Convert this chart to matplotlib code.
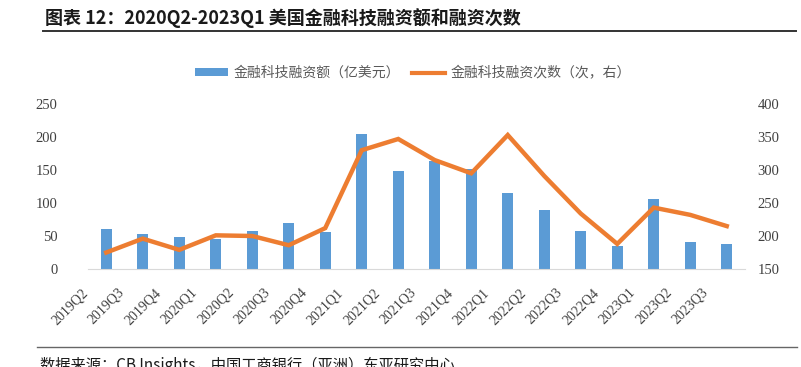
import matplotlib.pyplot as plt
import matplotlib.transforms as mtransforms
from matplotlib.lines import Line2D
from matplotlib.patches import Patch
import numpy as np

plt.rcParams['font.family'] = ['Noto Sans CJK SC', 'DejaVu Sans']

# Data
quarters = ['2019Q2', '2019Q3', '2019Q4', '2020Q1', '2020Q2', '2020Q3', '2020Q4',
            '2021Q1', '2021Q2', '2021Q3', '2021Q4', '2022Q1', '2022Q2', '2022Q3',
            '2022Q4', '2023Q1', '2023Q2', '2023Q3']
funding = [60, 52.5, 49, 45, 57.5, 70, 56, 204, 148.5, 164, 151, 115, 89, 57.5,
           35, 106.5, 40.5, 38]
deals = [175, 196, 179, 201, 200, 186, 212, 330, 347, 315, 295, 353, 291, 234,
         188, 243, 232, 215]

bar_color = '#5B9BD5'
line_color = '#ED7D31'
serif = 'Liberation Serif'

fig = plt.figure(figsize=(8.01, 3.67), dpi=100)
ax = fig.add_axes([88 / 801, 1 - 269 / 367, (745 - 88) / 801, 165 / 367])
ax2 = ax.twinx()

x = np.arange(len(quarters))
ax.bar(x, funding, width=0.31, color=bar_color, zorder=2)
ax2.plot(x, deals, color=line_color, linewidth=3.2, solid_joinstyle='miter', zorder=3)

# Axes setup
ax.set_xlim(-0.5, len(quarters) - 0.5)
ax.set_ylim(0, 250)
ax.set_yticks(range(0, 251, 50))
ax2.set_ylim(150, 400)
ax2.set_yticks(range(150, 401, 50))

for a in (ax, ax2):
    for s in ('top', 'left', 'right', 'bottom'):
        a.spines[s].set_visible(False)
    a.tick_params(length=0, labelsize=10.5, colors='#404040')
ax.spines['bottom'].set_visible(True)
ax.spines['bottom'].set_color('#d9d9d9')
ax.tick_params(axis='y', pad=22)
ax2.tick_params(axis='y', pad=9)
for lab in ax.get_yticklabels() + ax2.get_yticklabels():
    lab.set_fontfamily(serif)

ax.set_xticks(x)
ax.set_xticklabels(quarters, rotation=45, ha='right', va='top', fontsize=10,
                   fontfamily=serif, color='#404040')
shift = mtransforms.ScaledTranslation(-16 / 100, -12 / 100, fig.dpi_scale_trans)
for lab in ax.get_xticklabels():
    lab.set_transform(lab.get_transform() + shift)

# Legend
handles = [Patch(facecolor=bar_color, edgecolor='none'),
           Line2D([0], [0], color=line_color, linewidth=3)]
labels = ['金融科技融资额（亿美元）', '金融科技融资次数（次，右）']
fig.legend(handles, labels, loc='center', bbox_to_anchor=(413 / 801, 1 - 73 / 367),
           ncol=2, frameon=False, fontsize=10, labelcolor='#595959',
           handlelength=2.4, handleheight=0.5, handletextpad=0.4, columnspacing=0.8)

# Title and separator lines
fig.text(45 / 801, 1 - 18 / 367, '图表 12：2020Q2-2023Q1 美国金融科技融资额和融资次数',
         fontsize=13, fontweight='bold', va='center', ha='left', color='#1a1a1a')
fig.add_artist(Line2D([43 / 801, 796 / 801], [1 - 31 / 367, 1 - 31 / 367],
                      color='#333333', linewidth=1.4))
fig.add_artist(Line2D([37 / 801, 797 / 801], [1 - 347 / 367, 1 - 347 / 367],
                      color='#666666', linewidth=1.0))
fig.text(40 / 801, 1 - 357 / 367, '数据来源：CB Insights，中国工商银行（亚洲）东亚研究中心',
         fontsize=11, va='top', ha='left', color='#1a1a1a')

fig.savefig('out.png', dpi=100)
